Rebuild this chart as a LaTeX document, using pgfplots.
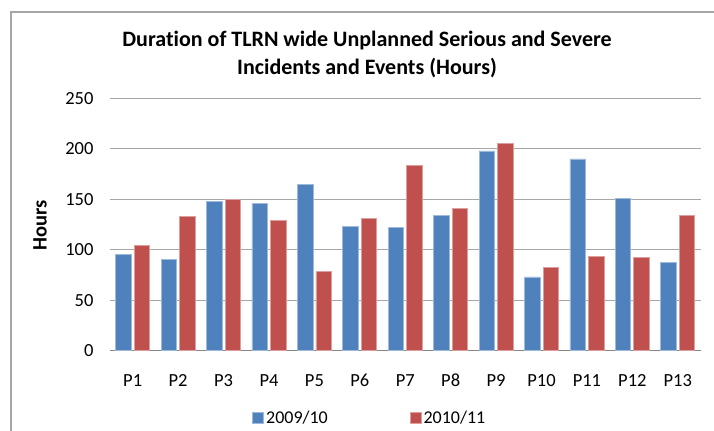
\documentclass[border=0pt]{standalone}
\usepackage{fontspec}
\setmainfont{Carlito}[Ligatures=NoCommon]
\usepackage{pgfplots}
\pgfplotsset{compat=1.18}
\definecolor{cblue}{HTML}{4F81BD}
\definecolor{cred}{HTML}{C0504D}
\definecolor{gridc}{HTML}{A6A6A6}
\definecolor{axc}{HTML}{868686}
\begin{document}
\begin{tikzpicture}[x=1bp,y=1bp]
\useasboundingbox (0,0) rectangle (714,-430);
\draw[gridc, line width=1.2bp] (11,-432) -- (11,-12) -- (716,-12);
\node[font=\fontsize{22bp}{28bp}\selectfont\bfseries, align=center] at (367,-54) {Duration of TLRN wide Unplanned Serious and Severe\\Incidents and Events (Hours)};
\begin{axis}[
  at={(110bp,-350.5bp)}, anchor=south west,
  scale only axis, width=590.5bp, height=252bp,
  ybar=3bp, bar width=15.5bp,
  xmin=-0.5, xmax=12.5, ymin=0, ymax=250,
  xtick={0,...,12},
  xticklabels={P1,P2,P3,P4,P5,P6,P7,P8,P9,P10,P11,P12,P13},
  ytick={0,50,100,150,200,250},
  major tick length=0,
  ymajorgrids, grid style={gridc, line width=0.9bp},
  axis x line*=bottom, axis y line*=left,
  x axis line style={axc, line width=1.2bp, -},
  y axis line style={draw=none},
  tick label style={font=\fontsize{18.5bp}{21bp}\selectfont},
  /pgf/number format/assume math mode=true,
  yticklabel style={xshift=-13bp},
  xticklabel style={yshift=-30bp, anchor=center},
  ylabel={Hours},
  ylabel style={font=\fontsize{20.5bp}{24bp}\selectfont\bfseries, at={(axis description cs:-0.1186,0.498)}, anchor=center},
  legend columns=2,
  legend style={draw=none, fill=none, at={(axis description cs:0.44,-0.266)}, anchor=center, font=\fontsize{18bp}{21bp}\selectfont,
    /tikz/every even column/.append style={column sep=80bp}},
  legend image code/.code={\fill[#1] (0bp,-5.5bp) rectangle (11bp,5.5bp);},
]
\addplot[fill=cblue, draw=cblue!55!white, line width=0.8bp] coordinates {
(0,95) (1,90) (2,148) (3,146) (4,165) (5,123) (6,122) (7,134) (8,198) (9,73) (10,190) (11,151) (12,87)};
\addplot[fill=cred, draw=cred!55!white, line width=0.8bp] coordinates {
(0,104) (1,133) (2,150) (3,129) (4,78) (5,131) (6,184) (7,141) (8,205) (9,82) (10,93) (11,92) (12,134)};
\legend{2009/10,2010/11}
\end{axis}
\end{tikzpicture}
\end{document}
